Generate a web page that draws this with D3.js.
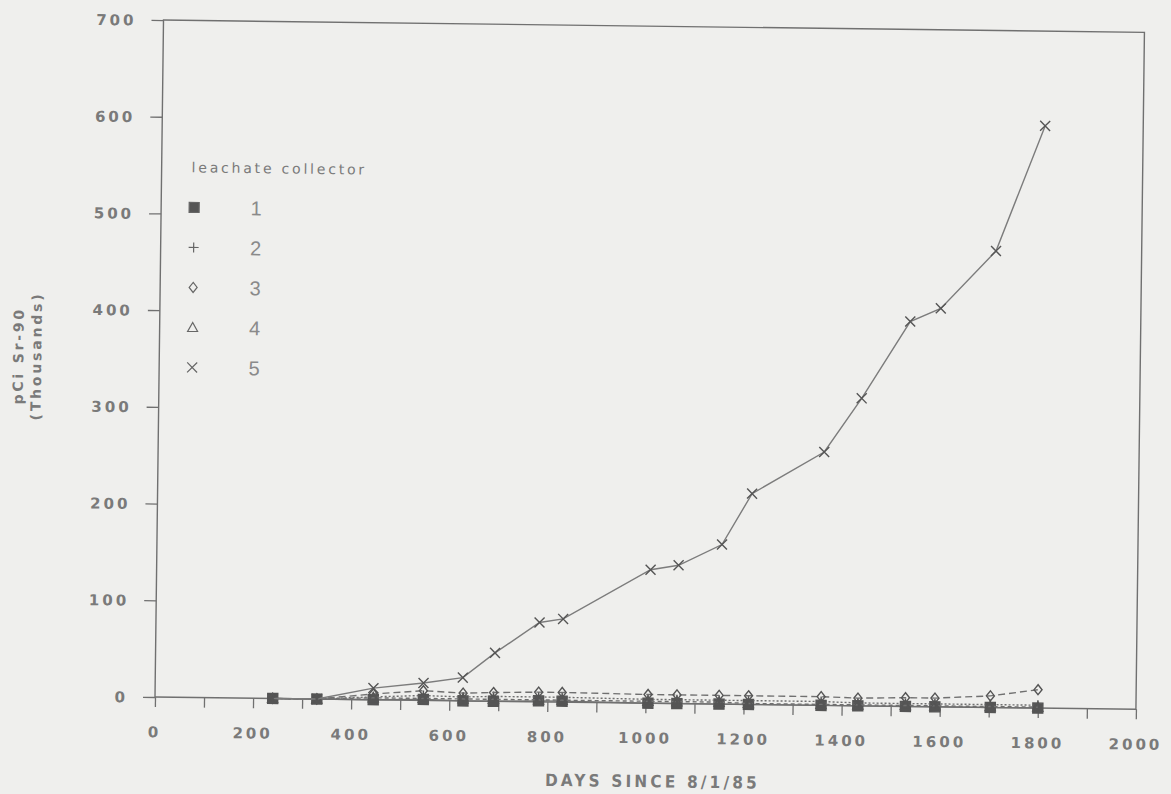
<!DOCTYPE html>
<html>
<head>
<meta charset="utf-8">
<script src="https://cdn.jsdelivr.net/npm/d3@7"></script>
<style>
  html, body { margin: 0; padding: 0; background: #efefed; }
  svg { display: block; }
</style>
</head>
<body>
<div id="chart"></div>
<script>
// --- Data ---
const xTicks = [0, 200, 400, 600, 800, 1000, 1200, 1400, 1600, 1800, 2000];
const yTicks = [0, 100, 200, 300, 400, 500, 600, 700];

// sampling days of the leachate collectors
const daysLow = [240, 330, 445, 547, 628, 690, 782, 830, 1005, 1064, 1150, 1210, 1358, 1433, 1530, 1590, 1703, 1800];
const days5 = [240, 330, 445, 547, 627, 692, 782, 830, 1007, 1064, 1152, 1212, 1358, 1433, 1530, 1592, 1703, 1800];

// pCi Sr-90, thousands
const collector1 = [0, 0, 0, 1, 0, 0, 1, 1, 0, 0, 0, 0, 0, 0, 0, 0, 0, 0];
const collector2 = [0, 0, 3, 5, 4, 5, 5, 5, 4, 4, 4, 4, 4, 3, 3, 3, 3, 3];
const collector3 = [0, 0, 6, 10, 8, 9, 10, 10, 9, 9, 9, 9, 9, 8, 9, 9, 12, 19];
const collector4 = [0, 0, 2, 2, 2, 2, 2, 2, 2, 2, 2, 1, 1, 1, 1, 1, 1, 1];
const collector5 = [0, 0, 12, 18, 24, 50, 82, 86, 138, 143, 165, 218, 262, 318, 398, 412, 472, 602];

const legendLabels = ["1", "2", "3", "4", "5"];

const series = [
  { name: "1", days: daysLow, values: collector1, symbol: "square", dash: null },
  { name: "2", days: daysLow, values: collector2, symbol: "plus", dash: "2,2" },
  { name: "3", days: daysLow, values: collector3, symbol: "diamond", dash: "7,4" },
  { name: "4", days: daysLow, values: collector4, symbol: "triangle", dash: "4,3" },
  { name: "5", days: days5, values: collector5, symbol: "cross", dash: null }
];

const symbolPath = {
  square: "M-5,-5H5V5H-5Z",
  plus: "M-5,0H5M0,-5V5",
  diamond: "M0,-5L4,0L0,5L-4,0Z",
  triangle: "M0,-5L5,4H-5Z",
  cross: "M-5,-5L5,5M5,-5L-5,5"
};

// --- Layout ---
const width = 1171, height = 794;
const margin = { top: 20, left: 155 };
const innerWidth = 981, innerHeight = 677;
const ink = "#707070";
const textInk = "#7a7a7a";

const svg = d3.select("#chart").append("svg")
  .attr("width", width)
  .attr("height", height);

svg.append("rect").attr("width", width).attr("height", height).attr("fill", "#efefed");

// the scan is slightly tilted, so tilt the whole plot
const root = svg.append("g")
  .attr("transform", `rotate(0.72, ${margin.left}, ${margin.top + innerHeight})`);

const g = root.append("g")
  .attr("transform", `translate(${margin.left},${margin.top})`);

const xScale = d3.scaleLinear().domain([0, 2000]).range([0, innerWidth]);
const yScale = d3.scaleLinear().domain([0, 700]).range([innerHeight, 0]);

// frame
g.append("rect")
  .attr("width", innerWidth)
  .attr("height", innerHeight)
  .attr("fill", "none")
  .attr("stroke", ink)
  .attr("stroke-width", 1.4);

// --- Axes ---
const minorX = d3.range(0, 2001, 100);

g.append("g")
  .attr("transform", `translate(0,${innerHeight})`)
  .call(d3.axisBottom(xScale).tickValues(minorX).tickSize(10).tickFormat(""))
  .call(a => a.select(".domain").remove())
  .call(a => a.selectAll(".tick text").remove())
  .call(a => a.selectAll(".tick line").attr("stroke", ink).attr("stroke-width", 1.3));

g.append("g")
  .attr("transform", `translate(0,${innerHeight})`)
  .selectAll("text")
  .data(xTicks)
  .join("text")
  .attr("x", d => xScale(d))
  .attr("y", 35)
  .attr("dy", "0.35em")
  .attr("text-anchor", "middle")
  .attr("fill", textInk)
  .attr("font-family", "DejaVu Sans")
  .attr("font-weight", "bold")
  .attr("font-size", "15px")
  .attr("letter-spacing", "3px")
  .text(d => d);

g.append("g")
  .call(d3.axisLeft(yScale).tickValues(yTicks).tickSize(12))
  .call(a => a.select(".domain").remove())
  .call(a => a.selectAll(".tick line").attr("stroke", ink).attr("stroke-width", 1.3))
  .call(a => a.selectAll(".tick text")
    .attr("x", -27).attr("dy", "0.35em")
    .attr("fill", textInk)
    .attr("font-family", "DejaVu Sans")
    .attr("font-weight", "bold")
    .attr("font-size", "15px")
    .attr("letter-spacing", "3px"));

// axis titles
g.append("text")
  .attr("x", innerWidth / 2 + 8)
  .attr("y", innerHeight + 84)
  .attr("text-anchor", "middle")
  .attr("fill", textInk)
  .attr("font-family", "DejaVu Sans Condensed")
  .attr("font-weight", "bold")
  .attr("font-size", "17px")
  .attr("letter-spacing", "3.2px")
  .text("DAYS SINCE 8/1/85");

const yTitle = g.append("text")
  .attr("transform", `translate(-136,${innerHeight / 2 - 1}) rotate(-90)`)
  .attr("text-anchor", "middle")
  .attr("fill", textInk)
  .attr("font-family", "DejaVu Sans")
  .attr("font-weight", "bold")
  .attr("font-size", "14px")
  .attr("letter-spacing", "2.8px");
yTitle.append("tspan").attr("x", 0).attr("y", 0).text("pCi Sr-90");
yTitle.append("tspan").attr("x", 0).attr("y", 18).text("(Thousands)");

// --- Lines & markers ---
const line = d3.line().x(d => xScale(d[0])).y(d => yScale(d[1]));

series.forEach(s => {
  const pts = s.days.map((d, i) => [d, s.values[i]]);
  g.append("path")
    .datum(pts)
    .attr("fill", "none")
    .attr("stroke", s.name === "5" ? "#7c7c7c" : ink)
    .attr("stroke-width", 1.4)
    .attr("stroke-dasharray", s.dash)
    .attr("d", line);

  g.selectAll(null)
    .data(pts)
    .join("path")
    .attr("transform", d => `translate(${xScale(d[0])},${yScale(d[1])})`)
    .attr("d", symbolPath[s.symbol])
    .attr("fill", s.symbol === "square" ? "#555" : "none")
    .attr("stroke", "#555")
    .attr("stroke-width", 1.4);
});

// --- Legend ---
const legend = g.append("g").attr("transform", "translate(23,147)");

legend.append("text")
  .attr("x", 7)
  .attr("y", 0)
  .attr("dy", "0.35em")
  .attr("fill", textInk)
  .attr("font-family", "DejaVu Sans")
  .attr("font-size", "14px")
  .attr("letter-spacing", "2.8px")
  .text("leachate collector");

const rows = legend.selectAll(".row")
  .data(series)
  .join("g")
  .attr("class", "row")
  .attr("transform", (d, i) => `translate(0,${40 + i * 40})`);

rows.append("path")
  .attr("transform", "translate(10,0)")
  .attr("d", d => symbolPath[d.symbol])
  .attr("fill", d => d.symbol === "square" ? "#555" : "none")
  .attr("stroke", "#666")
  .attr("stroke-width", 1.2);

rows.append("text")
  .attr("x", 72)
  .attr("dy", "0.35em")
  .attr("text-anchor", "middle")
  .attr("fill", "#8a8a8a")
  .attr("font-family", "Liberation Sans")
  .attr("font-size", "20px")
  .text((d, i) => legendLabels[i]);
</script>
</body>
</html>
